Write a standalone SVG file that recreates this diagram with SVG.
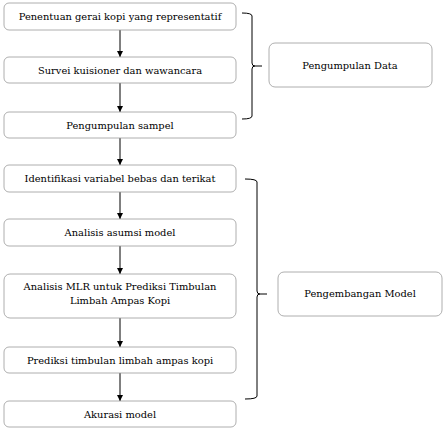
<svg xmlns="http://www.w3.org/2000/svg" width="447" height="432" viewBox="0 0 447 432">
<style>
.box{fill:#fff;stroke:#9a9a9a;stroke-width:0.8}
.t{font-family:"DejaVu Serif","Liberation Serif",serif;font-size:9.9px;fill:#000;text-anchor:middle}
.c{stroke:#000;stroke-width:1;fill:none}
</style>
<defs>
<marker id="ah" markerWidth="6" markerHeight="6" refX="6" refY="3" orient="auto" markerUnits="userSpaceOnUse">
<path d="M0,0 L6,3 L0,6 Z" fill="#000"/>
</marker>
</defs>
<rect width="447" height="432" fill="#fff"/>
<g id="connectors">
<line class="c" x1="120" y1="30" x2="120" y2="57" marker-end="url(#ah)"/>
<line class="c" x1="120" y1="83" x2="120" y2="112" marker-end="url(#ah)"/>
<line class="c" x1="120" y1="138" x2="120" y2="165" marker-end="url(#ah)"/>
<line class="c" x1="120" y1="192" x2="120" y2="219" marker-end="url(#ah)"/>
<line class="c" x1="120" y1="246" x2="120" y2="274" marker-end="url(#ah)"/>
<line class="c" x1="120" y1="318" x2="120" y2="347" marker-end="url(#ah)"/>
<line class="c" x1="120" y1="373" x2="120" y2="401" marker-end="url(#ah)"/>
<path class="c" d="M242,13 Q252,13 252,16 L252,63 Q252,66 255,66 L262,66 M255,66 Q252,66 252,69 L252,116 Q252,119 242,119"/>
<path class="c" d="M245,179 Q257,179 257,182 L257,291 Q257,294 260,294 L267,294 M260,294 Q257,294 257,297 L257,396 Q257,399 245,399"/>
</g>
<g id="n1"><rect class="box" x="4" y="3" width="232" height="27" rx="5"/><text class="t" x="120" y="20">Penentuan gerai kopi yang representatif</text></g>
<g id="n2"><rect class="box" x="4" y="57" width="232" height="26" rx="5"/><text class="t" x="120" y="73.5">Survei kuisioner dan wawancara</text></g>
<g id="n3"><rect class="box" x="4" y="112" width="232" height="26" rx="5"/><text class="t" x="120" y="128.5">Pengumpulan sampel</text></g>
<g id="n4"><rect class="box" x="4" y="165" width="232" height="27" rx="5"/><text class="t" x="120" y="181.5">Identifikasi variabel bebas dan terikat</text></g>
<g id="n5"><rect class="box" x="4" y="219" width="232" height="27" rx="5"/><text class="t" x="120" y="235.5">Analisis asumsi model</text></g>
<g id="n6"><rect class="box" x="4" y="274" width="232" height="44" rx="6"/><text class="t" x="120" y="290">Analisis MLR untuk Prediksi Timbulan</text><text class="t" x="120" y="303.5">Limbah Ampas Kopi</text></g>
<g id="n7"><rect class="box" x="4" y="347" width="232" height="26" rx="5"/><text class="t" x="120" y="363.5">Prediksi timbulan limbah ampas kopi</text></g>
<g id="n8"><rect class="box" x="4" y="401" width="232" height="26" rx="5"/><text class="t" x="120" y="417.5">Akurasi model</text></g>
<g id="g1"><rect class="box" x="269" y="43" width="163" height="44" rx="6"/><text class="t" x="350" y="69">Pengumpulan Data</text></g>
<g id="g2"><rect class="box" x="278" y="272" width="164" height="44" rx="6"/><text class="t" x="360" y="297">Pengembangan Model</text></g>
</svg>
